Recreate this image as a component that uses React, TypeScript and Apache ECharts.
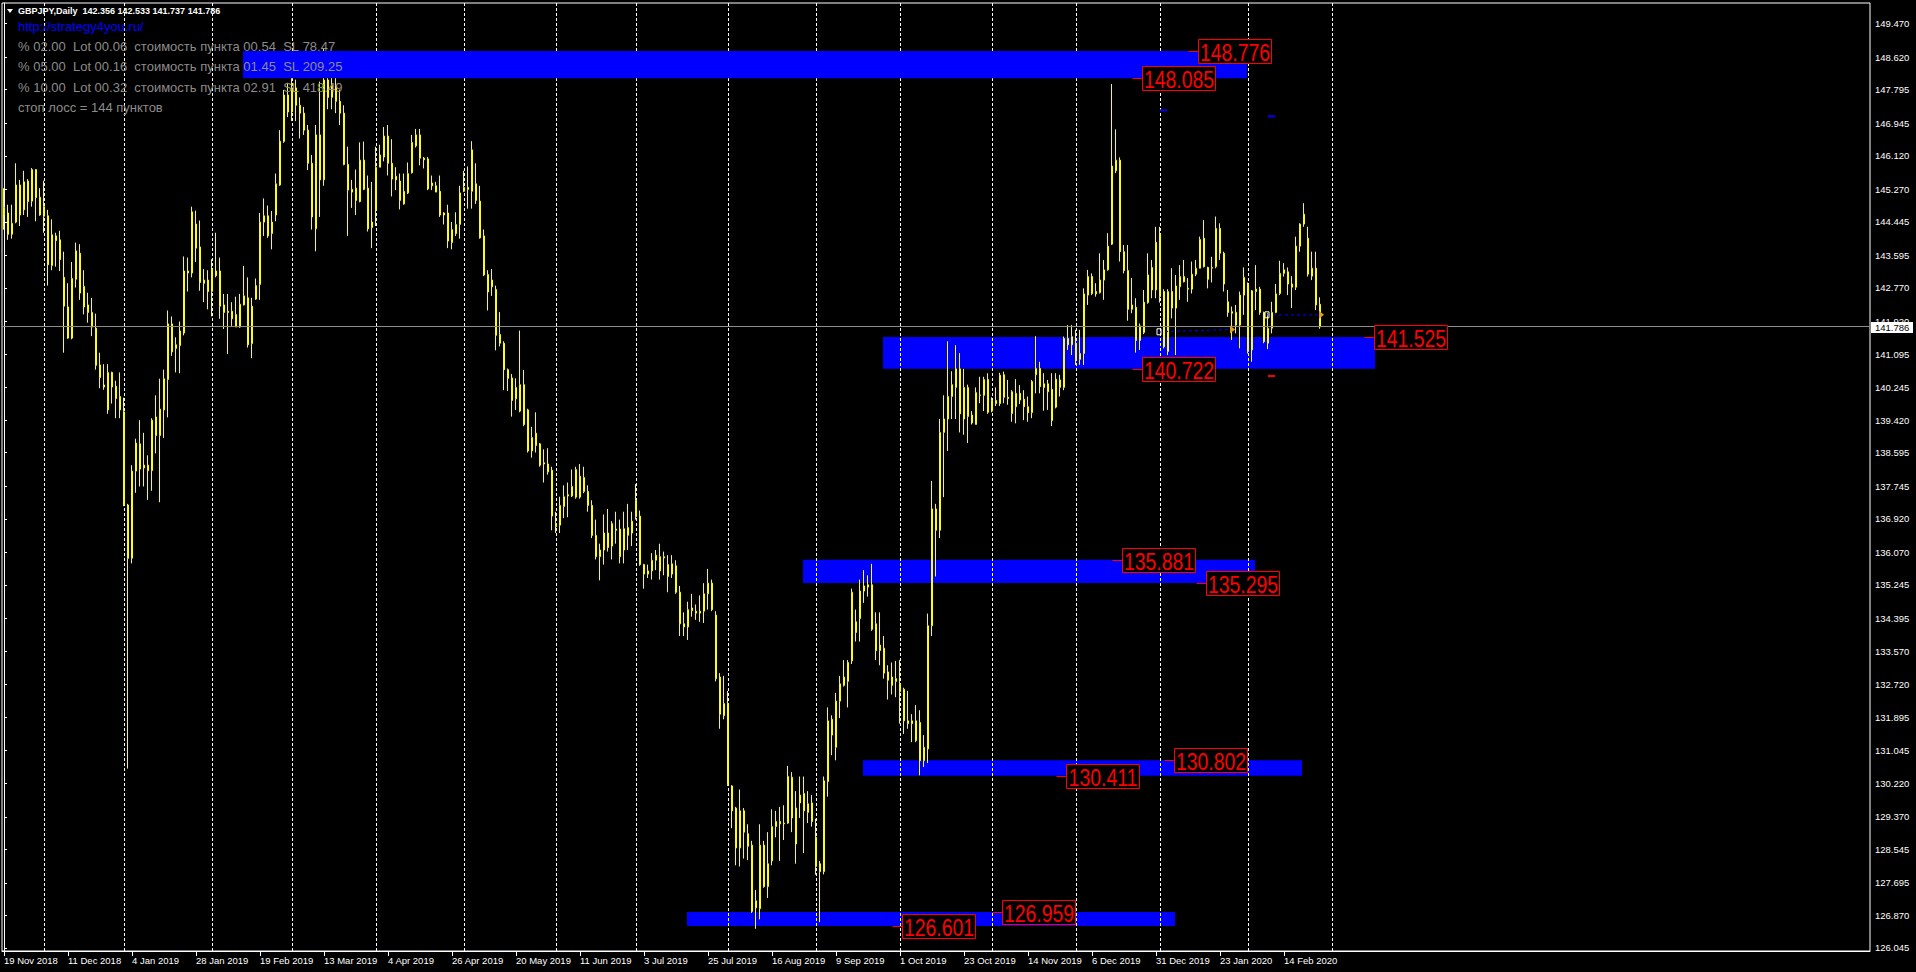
import { useEffect, useRef } from 'react';
import * as echarts from 'echarts';

// ---------- data ----------
const SLOT_COUNT = 467; // bar slots incl. empty right margin
const TICK_STEP = 16;
const TICK_LABELS = [
  '19 Nov 2018', '11 Dec 2018', '4 Jan 2019', '28 Jan 2019', '19 Feb 2019', '13 Mar 2019',
  '4 Apr 2019', '26 Apr 2019', '20 May 2019', '11 Jun 2019', '3 Jul 2019', '25 Jul 2019',
  '16 Aug 2019', '9 Sep 2019', '1 Oct 2019', '23 Oct 2019', '14 Nov 2019', '6 Dec 2019',
  '31 Dec 2019', '23 Jan 2020', '14 Feb 2020',
];
const Y_TICKS = [
  149.47, 148.62, 147.795, 146.945, 146.12, 145.27, 144.445, 143.595, 142.77, 141.92,
  141.095, 140.245, 139.42, 138.595, 137.745, 136.92, 136.07, 135.245, 134.395, 133.57,
  132.72, 131.895, 131.045, 130.22, 129.37, 128.545, 127.695, 126.87, 126.045,
];
const Y_MIN = 125.968;
const Y_MAX = 149.992;

// [open, close, low, high]
const CANDLES: number[][] = [
  [144.62, 144.81, 144.25, 145.30], [144.67, 144.13, 143.99, 144.88], [144.13, 144.41, 144.02, 144.88],
  [144.44, 145.38, 144.41, 145.93], [145.38, 144.62, 144.34, 145.51], [144.75, 145.46, 144.62, 145.74],
  [145.48, 144.96, 144.57, 145.53], [144.97, 145.77, 144.83, 145.81], [145.77, 145.06, 144.46, 145.78],
  [145.07, 144.62, 144.60, 145.30], [144.83, 144.59, 144.17, 145.49], [144.60, 143.36, 142.83, 144.75],
  [143.34, 144.12, 143.22, 144.51], [144.09, 143.97, 143.31, 144.17], [143.99, 143.49, 143.20, 144.22],
  [143.04, 142.31, 141.13, 143.69], [142.29, 141.50, 141.48, 142.89], [141.50, 143.01, 141.47, 143.43],
  [142.99, 143.71, 142.78, 143.92], [143.65, 142.64, 142.47, 143.88], [142.81, 142.29, 142.10, 143.22],
  [142.34, 142.15, 141.89, 142.65], [142.15, 141.78, 141.55, 142.52], [141.75, 140.81, 140.70, 142.12],
  [140.82, 140.50, 140.23, 141.13], [140.31, 140.26, 140.19, 140.84], [139.68, 140.63, 139.58, 140.84],
  [140.63, 140.26, 139.84, 140.65], [140.28, 139.97, 139.47, 140.42], [140.02, 139.68, 139.47, 140.63],
  [139.63, 137.27, 137.24, 139.99], [137.27, 135.92, 130.59, 137.30], [135.92, 138.13, 135.79, 138.28],
  [138.13, 138.84, 137.58, 138.95], [138.82, 138.18, 137.74, 139.42], [138.28, 138.21, 137.74, 139.10],
  [138.28, 138.14, 137.40, 138.53], [138.14, 139.42, 137.63, 139.47], [139.50, 139.03, 138.58, 140.05],
  [139.03, 139.70, 137.34, 140.47], [139.68, 140.47, 138.97, 140.70], [140.45, 141.86, 139.49, 142.20],
  [141.86, 141.15, 141.05, 142.05], [141.33, 141.24, 140.63, 141.52], [141.31, 141.68, 140.61, 141.92],
  [141.63, 143.20, 141.57, 143.57], [143.20, 143.15, 142.68, 143.54], [143.15, 144.70, 143.04, 144.83],
  [144.39, 143.78, 143.43, 144.73], [143.81, 142.91, 142.70, 144.48], [142.97, 142.89, 142.41, 143.25],
  [142.97, 142.68, 142.23, 143.22], [142.68, 143.25, 142.05, 143.50], [143.20, 143.08, 143.04, 144.17],
  [143.20, 142.31, 141.99, 143.54], [142.34, 142.15, 141.73, 142.62], [142.18, 142.15, 141.10, 142.62],
  [142.18, 141.99, 141.81, 142.41], [141.78, 142.10, 141.78, 142.55], [141.78, 142.36, 141.76, 142.62],
  [142.34, 142.57, 142.33, 143.33], [142.52, 141.33, 141.26, 143.04], [141.36, 142.31, 140.99, 142.52],
  [142.49, 142.83, 142.47, 143.01], [142.86, 144.44, 142.47, 144.67], [144.44, 144.60, 144.09, 145.04],
  [144.60, 144.09, 144.04, 144.86], [144.15, 144.44, 143.75, 144.72], [144.62, 145.41, 144.46, 145.67],
  [145.38, 146.49, 145.36, 146.77], [146.48, 147.66, 146.45, 147.79], [147.66, 147.23, 147.10, 147.97],
  [147.23, 147.84, 147.00, 148.10], [147.84, 147.40, 147.00, 148.05], [147.40, 147.20, 146.56, 147.60],
  [147.20, 146.77, 146.65, 147.36], [146.77, 145.93, 145.76, 146.90], [145.93, 144.57, 144.25, 146.14],
  [144.27, 146.65, 143.70, 146.90], [146.65, 145.51, 144.57, 148.00], [145.51, 148.04, 145.36, 148.85],
  [148.04, 147.60, 147.30, 148.70], [147.60, 147.90, 147.30, 148.30], [147.90, 147.50, 147.20, 148.60],
  [147.50, 147.20, 146.90, 147.80], [147.20, 145.90, 145.88, 147.40], [145.90, 145.25, 144.09, 146.35],
  [145.27, 145.20, 144.80, 145.51], [145.30, 144.99, 144.62, 145.77], [144.96, 146.01, 144.94, 146.46],
  [146.01, 145.27, 145.25, 146.48], [145.30, 144.27, 144.20, 145.62], [144.44, 144.30, 143.78, 145.46],
  [144.75, 145.83, 144.34, 146.35], [145.83, 146.14, 145.83, 146.40], [146.09, 146.62, 145.98, 146.85],
  [146.62, 145.93, 145.62, 146.90], [145.93, 145.53, 145.09, 146.54], [145.60, 145.51, 145.25, 145.83],
  [145.48, 144.99, 144.76, 145.67], [144.90, 145.22, 144.88, 145.67], [145.18, 145.67, 145.15, 145.95],
  [145.69, 146.46, 145.67, 146.65], [146.37, 146.65, 146.33, 146.80], [146.65, 146.06, 145.88, 146.80],
  [146.06, 146.02, 145.80, 146.09], [146.04, 145.28, 145.25, 146.09], [145.43, 145.36, 145.25, 145.62],
  [145.36, 145.20, 145.20, 145.46], [145.22, 144.62, 144.57, 145.62], [144.67, 144.62, 144.38, 144.69],
  [144.67, 143.96, 143.78, 144.88], [143.92, 144.25, 143.75, 144.44], [144.15, 144.38, 144.09, 144.69],
  [144.38, 145.18, 144.02, 145.36], [145.22, 145.32, 145.20, 145.74], [145.32, 145.27, 144.78, 145.85],
  [145.22, 146.27, 144.78, 146.49], [145.41, 144.99, 144.90, 145.93], [144.97, 144.04, 144.02, 145.36],
  [144.09, 143.10, 143.07, 144.25], [143.11, 142.67, 142.20, 143.22], [142.97, 142.80, 142.57, 143.25],
  [142.73, 141.57, 141.19, 142.83], [141.59, 141.37, 141.29, 142.16], [141.37, 140.70, 140.18, 141.42],
  [140.70, 140.48, 140.16, 140.73], [140.49, 139.92, 139.51, 140.59], [139.96, 140.25, 139.68, 140.48],
  [139.65, 140.32, 139.62, 141.69], [140.32, 139.31, 139.27, 140.69], [139.68, 138.64, 138.60, 139.71],
  [138.64, 138.98, 138.47, 139.25], [139.09, 138.78, 138.60, 139.62], [138.82, 138.28, 138.24, 138.84],
  [138.34, 138.31, 137.84, 138.68], [138.31, 138.11, 138.04, 138.71], [138.15, 136.99, 136.63, 138.24],
  [136.80, 136.72, 136.56, 137.10], [136.76, 137.26, 136.56, 137.48], [137.23, 137.48, 136.94, 137.77],
  [137.53, 137.50, 136.96, 137.84], [137.50, 137.74, 137.47, 138.17], [137.47, 138.17, 137.43, 138.24],
  [138.00, 137.47, 137.43, 138.31], [137.61, 137.97, 137.57, 138.24], [137.61, 137.26, 137.10, 137.77],
  [137.26, 136.50, 136.43, 137.39], [136.50, 135.96, 135.89, 136.90], [135.96, 136.13, 135.36, 136.29],
  [136.13, 136.56, 135.76, 137.03], [136.56, 136.19, 136.09, 137.17], [136.23, 136.80, 135.89, 136.86],
  [136.66, 136.63, 136.29, 137.10], [136.66, 135.96, 135.79, 136.90], [136.13, 136.67, 135.79, 137.10],
  [136.50, 136.70, 136.13, 137.30], [136.56, 136.86, 136.23, 137.10], [136.97, 137.39, 136.90, 137.80],
  [136.99, 135.76, 135.73, 137.13], [135.76, 135.52, 135.15, 135.78], [135.60, 135.52, 135.42, 135.76],
  [135.60, 135.87, 135.38, 136.05], [135.87, 136.00, 135.62, 136.13], [135.96, 135.60, 135.38, 136.29],
  [135.93, 135.96, 135.49, 136.09], [135.76, 135.46, 135.06, 136.00], [135.52, 135.78, 135.42, 136.00],
  [135.73, 135.06, 135.02, 135.87], [135.06, 134.26, 133.95, 135.22], [134.26, 134.18, 133.95, 134.55],
  [134.18, 134.62, 133.85, 134.82], [134.59, 134.66, 134.44, 135.02], [134.58, 134.53, 134.36, 134.75],
  [134.53, 134.58, 134.31, 134.98], [134.58, 135.02, 134.28, 135.29], [135.02, 135.29, 134.62, 135.65],
  [135.29, 134.62, 134.58, 135.38], [134.48, 132.87, 132.80, 134.58], [132.91, 131.97, 131.60, 133.01],
  [131.93, 132.24, 131.84, 132.94], [132.24, 130.19, 130.15, 132.56], [130.15, 129.52, 129.08, 130.17],
  [129.59, 128.58, 128.14, 129.62], [128.58, 129.52, 128.11, 130.06], [129.52, 128.98, 128.31, 129.59],
  [128.94, 128.62, 128.27, 129.18], [128.65, 126.97, 126.93, 128.76], [127.06, 127.24, 126.53, 127.51],
  [127.04, 128.65, 126.77, 129.18], [128.65, 127.60, 127.57, 128.76], [127.60, 128.18, 127.31, 128.98],
  [128.25, 129.12, 128.14, 129.56], [129.12, 129.25, 128.85, 129.52], [129.25, 129.19, 128.25, 129.62],
  [129.21, 129.19, 128.78, 129.66], [129.21, 130.39, 129.19, 130.66], [130.37, 129.34, 128.98, 130.50],
  [129.59, 128.68, 128.18, 130.02], [129.72, 129.92, 129.34, 130.39], [129.96, 129.52, 128.45, 130.39],
  [129.48, 129.70, 129.21, 130.02], [129.72, 129.25, 129.12, 129.92], [128.85, 128.11, 127.90, 129.32],
  [128.18, 127.98, 126.70, 128.25], [127.98, 130.28, 127.91, 130.39], [130.26, 131.80, 129.88, 132.14],
  [131.84, 131.44, 130.93, 131.94], [131.13, 132.30, 130.80, 132.51], [132.30, 132.74, 131.87, 132.94],
  [132.70, 132.91, 132.67, 133.34], [132.80, 133.28, 132.14, 133.34], [133.32, 135.06, 133.24, 135.15],
  [134.31, 134.04, 133.81, 134.62], [134.39, 135.09, 133.81, 135.38], [135.09, 135.22, 134.79, 135.62],
  [135.19, 135.25, 134.95, 135.49], [135.25, 134.12, 134.08, 135.78], [134.26, 133.58, 133.34, 134.55],
  [133.58, 133.72, 133.21, 134.55], [133.64, 133.01, 132.87, 133.95], [133.04, 132.83, 132.34, 133.21],
  [132.91, 132.70, 132.47, 133.28], [132.87, 132.80, 132.40, 133.32], [132.74, 132.54, 131.73, 133.34],
  [132.60, 131.80, 131.47, 132.64], [131.80, 131.73, 131.60, 132.56], [131.73, 131.80, 131.26, 131.97],
  [131.80, 131.30, 131.26, 132.20], [131.76, 130.79, 130.42, 132.07], [130.79, 131.13, 130.63, 131.44],
  [131.09, 134.21, 130.73, 134.52], [134.21, 137.17, 133.95, 137.88], [137.17, 136.63, 135.46, 137.30],
  [136.63, 139.11, 136.43, 139.45], [139.11, 139.45, 137.47, 140.05], [139.45, 140.02, 138.64, 141.42],
  [140.02, 140.32, 139.45, 140.66], [140.25, 140.72, 139.45, 141.32], [140.72, 139.58, 139.11, 141.12],
  [140.25, 139.45, 139.05, 140.72], [139.51, 140.25, 138.84, 140.32], [139.55, 139.35, 139.31, 139.65],
  [139.31, 140.12, 139.31, 140.25], [140.06, 140.05, 139.85, 140.52], [140.05, 140.45, 139.65, 140.52],
  [140.45, 139.62, 139.58, 140.61], [139.65, 139.92, 139.62, 140.00], [139.92, 139.84, 139.78, 140.25],
  [139.84, 140.56, 139.78, 140.62], [140.57, 140.00, 139.85, 140.65], [140.00, 139.97, 139.81, 140.44],
  [140.14, 139.59, 139.38, 140.18], [139.76, 140.10, 139.34, 140.46], [140.10, 139.93, 139.83, 140.31],
  [139.95, 139.76, 139.42, 140.18], [139.76, 139.61, 139.38, 140.02], [139.61, 140.40, 139.47, 140.44],
  [140.57, 140.73, 140.10, 141.55], [140.73, 140.27, 140.10, 140.90], [140.34, 140.25, 139.66, 140.61],
  [140.34, 140.14, 139.68, 140.44], [140.20, 139.41, 139.27, 140.61], [139.75, 140.46, 139.72, 140.61],
  [140.25, 140.44, 140.02, 140.57], [140.25, 141.49, 140.18, 141.54], [141.49, 141.33, 141.20, 141.83],
  [141.33, 141.54, 141.07, 141.83], [141.37, 140.96, 140.82, 141.71], [140.96, 141.11, 140.82, 141.71],
  [141.11, 142.62, 140.82, 142.76], [142.59, 143.06, 142.34, 143.23], [143.06, 142.63, 142.59, 143.14],
  [142.68, 142.62, 142.55, 142.89], [142.65, 142.97, 142.63, 143.65], [142.97, 143.23, 142.47, 143.48],
  [143.23, 143.83, 143.21, 144.16], [143.88, 145.86, 143.86, 147.94], [145.74, 146.01, 145.68, 146.79],
  [146.01, 143.69, 143.44, 146.08], [143.69, 143.21, 143.14, 143.86], [143.21, 142.23, 141.94, 143.86],
  [142.23, 142.34, 142.13, 143.02], [142.28, 141.44, 141.13, 142.51], [141.44, 141.81, 141.20, 141.87],
  [141.64, 142.41, 141.60, 142.72], [142.40, 143.10, 142.37, 143.65], [142.72, 143.29, 142.51, 143.48],
  [142.72, 143.93, 142.51, 144.32], [144.14, 142.55, 142.40, 144.32], [142.68, 141.28, 141.24, 142.74],
  [141.16, 142.68, 141.07, 142.74], [142.68, 142.26, 142.00, 143.27], [142.26, 142.82, 141.07, 143.10],
  [142.80, 143.06, 142.47, 143.35], [143.06, 142.93, 142.91, 143.48], [142.76, 142.74, 142.42, 143.02],
  [142.74, 143.12, 142.63, 143.44], [143.12, 143.27, 143.07, 143.48], [143.27, 144.00, 143.27, 144.07],
  [144.03, 143.31, 143.29, 144.49], [143.29, 142.99, 142.76, 143.31], [143.27, 143.29, 142.91, 143.56],
  [143.31, 144.28, 143.27, 144.58], [144.28, 143.65, 143.48, 144.41], [143.65, 142.87, 142.68, 143.69],
  [142.42, 142.15, 142.04, 142.72], [142.17, 142.13, 141.45, 142.30], [142.15, 141.83, 141.62, 142.34],
  [141.83, 142.59, 141.24, 142.68], [142.59, 143.04, 142.09, 143.29], [142.87, 141.16, 141.11, 142.91],
  [141.20, 142.70, 140.90, 142.72], [142.74, 142.68, 142.21, 143.35], [142.74, 142.15, 142.09, 142.80],
  [142.15, 141.41, 141.37, 142.17], [141.37, 141.75, 141.22, 142.13], [141.75, 142.15, 141.62, 142.42],
  [142.15, 142.62, 142.13, 142.87], [142.63, 143.14, 142.59, 143.46], [143.14, 143.23, 143.06, 143.40],
  [143.18, 142.87, 142.59, 143.29], [142.87, 142.79, 142.26, 143.07], [142.79, 143.83, 142.72, 144.07],
  [143.83, 144.39, 143.69, 144.41], [144.39, 144.64, 144.32, 144.92], [144.03, 143.12, 143.06, 144.32],
  [143.07, 143.27, 142.97, 143.69], [143.27, 142.34, 142.21, 143.69], [142.356, 141.786, 141.737, 142.533],
];

// month separators (bar index)
const SEPARATORS = [10, 30, 52, 72, 93, 115, 138, 158, 181, 203, 224, 247, 268, 289, 311, 332];

// zones: [fromBar, toBar, lowPrice, highPrice]
const ZONES_BACK = [
  [219.75, 342.75, 140.722, 141.525],
  [199.75, 312.75, 135.295, 135.881],
  [214.75, 324.5, 130.411, 130.802],
  [170.75, 292.75, 126.601, 126.959],
];
const ZONES_FRONT = [[59.75, 310.75, 148.085, 148.776]];

// price labels: [anchorBar, price]
const LEVEL_LABELS = [
  [295.9, 148.776], [281.9, 148.085], [340, 141.525], [281.9, 140.722], [276.9, 135.881],
  [298, 135.295], [290, 130.802], [263, 130.411], [247, 126.959], [222, 126.601],
];

// trade lines: [fromBar, fromPrice, toBar, toPrice]
const TRADE_LINES = [
  [288.75, 141.66, 307.25, 141.72],
  [315.75, 142.09, 329.5, 142.09],
];
// short level marks: [fromBar, toBar, price]
const BLUE_MARKS = [[289, 290.75, 147.27], [316, 317.75, 147.12]];
const RED_MARKS = [[316, 317.75, 140.54]];

const SYMBOL = 'GBPJPY,Daily';
const LAST = CANDLES[CANDLES.length - 1];
const URL_TEXT = 'http://strategy4you.ru/';
const INFO_LINES = [
  '% 02.00  Lot 00.06  стоимость пункта 00.54  SL 78.47',
  '% 05.00  Lot 00.16  стоимость пункта 01.45  SL 209.25',
  '% 10.00  Lot 00.32  стоимость пункта 02.91  SL 418.49',
  'стоп лосс = 144 пунктов',
];

const FONT = '"Liberation Sans", Arial, sans-serif';
const NB = (s: string) => s.replace(/ /g, '\u00a0');

export default function App() {
  const ref = useRef<HTMLDivElement>(null);

  useEffect(() => {
    if (!ref.current) return;
    const chart = echarts.init(ref.current, undefined, { renderer: 'svg' });
    const cats = Array.from({ length: SLOT_COUNT }, (_, i) => String(i));
    const lastTickIdx = (TICK_LABELS.length - 1) * TICK_STEP;
    const isTick = (idx: number) => idx % TICK_STEP === 0 && idx <= lastTickIdx;

    const zoneRender = (params: any, api: any) => {
      const a = api.coord([api.value(0), api.value(3)]);
      const b = api.coord([api.value(1), api.value(2)]);
      return {
        type: 'rect',
        shape: { x: a[0], y: a[1], width: b[0] - a[0], height: b[1] - a[1] },
        style: { fill: '#0000ff' },
      };
    };

    const option: any = {
      animation: false,
      backgroundColor: '#000000',
      grid: {
        left: 2, right: 46, top: 3, bottom: 21,
        show: true, borderColor: '#ffffff', borderWidth: 1, backgroundColor: '#000000',
      },
      xAxis: [
        {
          type: 'category',
          data: cats,
          boundaryGap: true,
          axisLine: { show: true, lineStyle: { color: '#ffffff', width: 1 } },
          axisTick: {
            show: true, alignWithLabel: true, length: 5,
            interval: (idx: number) => isTick(idx),
            lineStyle: { color: '#ffffff' },
          },
          axisLabel: {
            interval: (idx: number) => isTick(idx),
            formatter: (_v: string, idx: number) => (isTick(idx) ? TICK_LABELS[idx / TICK_STEP] : ''),
            align: 'left',
            color: '#ffffff',
            fontSize: 9.5,
            fontFamily: FONT,
            margin: 4,
          },
          splitLine: { show: false },
        },
        { type: 'value', min: -0.5, max: SLOT_COUNT - 0.5, show: false },
      ],
      yAxis: {
        type: 'value',
        position: 'right',
        min: Y_MIN,
        max: Y_MAX,
        axisLine: { show: true, lineStyle: { color: '#ffffff' } },
        axisTick: { show: true, length: 3, customValues: Y_TICKS, lineStyle: { color: '#ffffff' } },
        axisLabel: {
          customValues: Y_TICKS,
          formatter: (v: number) => v.toFixed(3),
          color: '#ffffff',
          fontSize: 9.5,
          fontFamily: FONT,
          margin: 5,
        },
        splitLine: { show: false },
      },
      series: [
        {
          type: 'custom', name: 'zonesBack', xAxisIndex: 1, yAxisIndex: 0, z: 1, silent: true,
          data: ZONES_BACK, renderItem: zoneRender,
        },
        {
          type: 'custom', name: 'separators', xAxisIndex: 1, yAxisIndex: 0, z: 2, silent: true,
          data: SEPARATORS.map((s) => [s]),
          renderItem: (params: any, api: any) => {
            const cs = params.coordSys;
            const x = Math.round(api.coord([api.value(0), Y_MAX])[0]) + 0.5;
            return {
              type: 'line',
              shape: { x1: x, y1: cs.y, x2: x, y2: cs.y + cs.height },
              style: { stroke: '#ffffff', lineWidth: 1, lineDash: [3, 2] },
            };
          },
        },
        {
          type: 'candlestick', name: 'GBPJPY', xAxisIndex: 0, yAxisIndex: 0, z: 3,
          data: CANDLES,
          barWidth: 2,
          itemStyle: {
            color: '#000000', color0: '#ffff00',
            borderColor: '#ffff00', borderColor0: '#ffff00', borderWidth: 1,
          },
          markLine: {
            silent: true, symbol: ['none', 'none'], label: { show: false },
            lineStyle: { color: '#8c8c8c', width: 1, type: 'solid' },
            data: [{ yAxis: LAST[1] }],
          },
        },
        {
          type: 'custom', name: 'zonesFront', xAxisIndex: 1, yAxisIndex: 0, z: 4, silent: true,
          data: ZONES_FRONT, renderItem: zoneRender,
        },
        {
          type: 'custom', name: 'trades', xAxisIndex: 1, yAxisIndex: 0, z: 5, silent: true,
          data: TRADE_LINES,
          renderItem: (_p: any, api: any) => {
            const a = api.coord([api.value(0), api.value(1)]);
            const b = api.coord([api.value(2), api.value(3)]);
            return {
              type: 'group',
              children: [
                { type: 'line', shape: { x1: a[0], y1: a[1], x2: b[0], y2: b[1] },
                  style: { stroke: '#0000ff', lineWidth: 1, lineDash: [3, 3] } },
                { type: 'rect', shape: { x: a[0] - 2, y: a[1] - 3, width: 4, height: 6 },
                  style: { fill: 'none', stroke: '#ffffff', lineWidth: 1 } },
                { type: 'polygon', shape: { points: [[b[0] - 3, b[1] - 4], [b[0] + 2, b[1]], [b[0] - 3, b[1] + 4]] },
                  style: { fill: '#e0a020' } },
              ],
            };
          },
        },
        {
          type: 'custom', name: 'marks', xAxisIndex: 1, yAxisIndex: 0, z: 5, silent: true,
          data: [...BLUE_MARKS.map((m) => [...m, 0]), ...RED_MARKS.map((m) => [...m, 1])],
          renderItem: (_p: any, api: any) => {
            const a = api.coord([api.value(0), api.value(2)]);
            const b = api.coord([api.value(1), api.value(2)]);
            return {
              type: 'line',
              shape: { x1: a[0], y1: a[1], x2: b[0], y2: b[1] },
              style: { stroke: api.value(3) === 1 ? '#ff0000' : '#0000ff', lineWidth: 2 },
            };
          },
        },
        {
          type: 'custom', name: 'levels', xAxisIndex: 1, yAxisIndex: 0, z: 6, silent: true, clip: false,
          data: LEVEL_LABELS,
          renderItem: (_p: any, api: any) => {
            const p = api.coord([api.value(0), api.value(1)]);
            const x = Math.round(p[0]) + 0.5;
            const y = Math.round(p[1]) + 0.5;
            const txt = Number(api.value(1)).toFixed(3);
            return {
              type: 'group',
              children: [
                { type: 'line', shape: { x1: x, y1: y, x2: x + 10, y2: y },
                  style: { stroke: '#ff0000', lineWidth: 1 } },
                { type: 'rect', shape: { x: x + 10, y: y - 12, width: 73, height: 24 },
                  style: { fill: '#000000', stroke: '#ff0000', lineWidth: 1 } },
                { type: 'text', x: x + 46.5, y: y + 1, scaleX: 0.81, scaleY: 1,
                  style: { text: txt, fill: '#ff0000', fontSize: 24, fontFamily: FONT,
                    align: 'center', verticalAlign: 'middle' } },
              ],
            };
          },
        },
        {
          type: 'custom', name: 'priceBox', xAxisIndex: 1, yAxisIndex: 0, z: 7, silent: true, clip: false,
          data: [[0, LAST[1]]],
          renderItem: (params: any, api: any) => {
            const cs = params.coordSys;
            const y = Math.round(api.coord([0, api.value(1)])[1]);
            const x0 = cs.x + cs.width + 1;
            return {
              type: 'group',
              children: [
                { type: 'rect', shape: { x: x0, y: y - 5, width: 42, height: 11 }, style: { fill: '#ffffff' } },
                { type: 'text', x: x0 + 4, y: y + 0.5,
                  style: { text: Number(api.value(1)).toFixed(3), fill: '#000000', fontSize: 9.5,
                    fontFamily: FONT, verticalAlign: 'middle' } },
              ],
            };
          },
        },
      ],
      graphic: [
        { type: 'polygon', z: 100, shape: { points: [[7, 9], [13, 9], [10, 13]] }, style: { fill: '#ffffff' } },
        { type: 'text', z: 100, x: 18, y: 11,
          style: { text: NB(`${SYMBOL}  ${LAST[0].toFixed(3)} ${LAST[3].toFixed(3)} ${LAST[2].toFixed(3)} ${LAST[1].toFixed(3)}`),
            fill: '#ffffff', font: `bold 9px ${FONT}`, verticalAlign: 'middle' } },
        { type: 'text', z: 100, x: 18, y: 26,
          style: { text: URL_TEXT, fill: '#0000ff', font: `13px ${FONT}`, verticalAlign: 'middle' } },
        ...INFO_LINES.map((t, k) => ({
          type: 'text', z: 100, x: 18, y: 46.7 + k * 20.2,
          style: { text: NB(t), fill: '#8c8c8c', font: `13px ${FONT}`, verticalAlign: 'middle' },
        })),
      ],
    };

    chart.setOption(option);
    return () => chart.dispose();
  }, []);

  return (
    <div
      ref={ref}
      style={{ position: 'fixed', left: 0, top: 0, width: 1916, height: 972, background: '#000000' }}
    />
  );
}
